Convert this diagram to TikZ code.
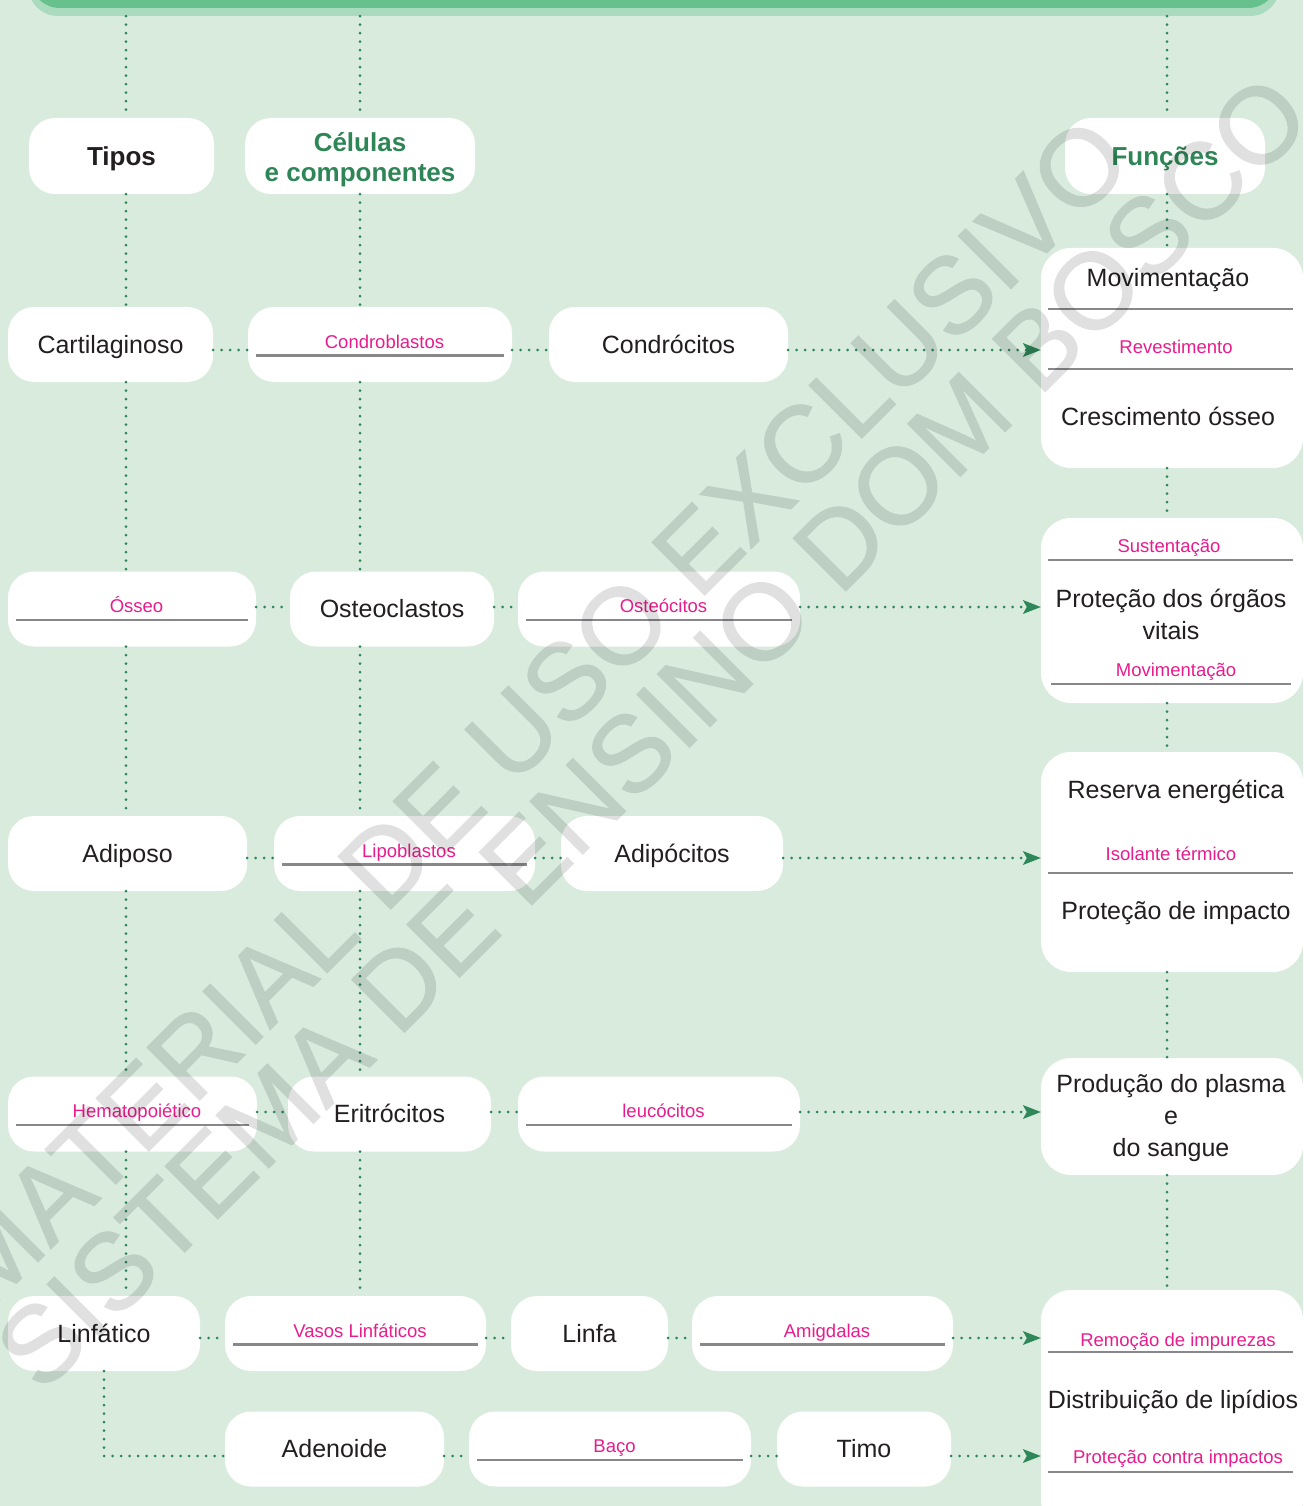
\documentclass[tikz,border=0pt]{standalone}
\usepackage{fontspec}
\setmainfont{Liberation Sans}
\newfontfamily\stampfont[FakeBold=1.2]{Liberation Sans}
\usetikzlibrary{arrows.meta}
\definecolor{fundo}{RGB}{216,235,221}
\definecolor{faixa}{RGB}{102,193,141}
\definecolor{faixaclara}{RGB}{171,219,190}
\definecolor{pontos}{RGB}{45,135,88}
\definecolor{verdetit}{RGB}{46,134,86}
\definecolor{rosa}{RGB}{232,28,140}
\definecolor{cinza}{RGB}{136,136,140}
\definecolor{tinta}{RGB}{35,31,32}

\begin{document}
\begin{tikzpicture}[x=1pt, y=-1pt,
  cell/.style={rectangle, rounded corners=26pt, fill=white, minimum height=75pt, inner sep=0pt, text=tinta, font=\fontsize{25}{30}\selectfont, text height=17pt, text depth=0pt},
  blank/.style={cell, text=rosa, font=\fontsize{18.5}{22}\selectfont, text height=7pt, execute at begin node={\hspace*{9pt}},
    path picture={\draw[rule] ([xshift=8pt,yshift=-11pt]path picture bounding box.west) -- ([xshift=-8pt,yshift=-11pt]path picture bounding box.east);}},
  head/.style={cell, minimum height=76pt, text=verdetit, font=\bfseries\fontsize{26}{30}\selectfont, text height=20pt, align=center},
  fbox/.style={rectangle, rounded corners=30pt, fill=white, minimum width=262pt, inner sep=0pt},
  ftext/.style={anchor=base, inner sep=0pt, text=tinta, font=\fontsize{25}{32}\selectfont, align=center},
  fnote/.style={anchor=base, inner sep=0pt, text=rosa, font=\fontsize{18.5}{22}\selectfont},
  rule/.style={draw=cinza, line width=2.5pt},
  dots/.style={draw=pontos, line width=3pt, line cap=round, dash pattern=on 0pt off 8.5pt},
  arrow/.style={dots, -{Stealth[length=18pt, width=14pt, inset=4pt, line width=0pt]}},
  stamp/.style={inner sep=0pt, text=black, font=\stampfont\fontsize{108}{130}\selectfont, rotate=45}
]
\clip (0,0) rectangle (1303,1506);
\fill[fundo] (0,0) rectangle (1303,1506);

\node[rectangle, rounded corners=30pt, fill=faixaclara, minimum width=1252pt, minimum height=76pt] (bannerbase) at (654,-22) {};
\node[rectangle, rounded corners=30pt, fill=faixa, minimum width=1248pt, minimum height=68pt] (banner) at (654,-26) {};

\coordinate (colA) at (126,0);
\coordinate (colB) at (360,0);
\coordinate (colC) at (1167,0);

\node[head, text=tinta, minimum width=185pt] (tipos) at (121.5,156) {Tipos};
\node[head, minimum width=230pt, text height=57.5pt, text depth=5.5pt] (celulas) at (360,156) {Células\\e componentes};
\node[head, minimum width=200pt] (funcoes) at (1165,156) {Funções};

\node[cell, minimum width=205pt] (cart) at (110.5,344.5) {Cartilaginoso};
\node[blank, minimum width=264pt] (condb) at (380,344.5) {Condroblastos};
\node[cell, minimum width=239pt] (condc) at (668.5,344.5) {Condrócitos};

\node[blank, minimum width=248pt] (osseo) at (132,609) {Ósseo};
\node[cell, minimum width=204pt] (ostcl) at (392,609) {Osteoclastos};
\node[blank, minimum width=282pt] (ostci) at (659,609) {Osteócitos};

\node[cell, minimum width=239pt] (adip) at (127.5,853.5) {Adiposo};
\node[blank, minimum width=261pt] (lipo) at (404.5,853.5) {Lipoblastos};
\node[cell, minimum width=222pt] (adipc) at (672,853.5) {Adipócitos};

\node[blank, minimum width=249pt] (hema) at (132.5,1114) {Hematopoiético};
\node[cell, minimum width=203pt] (eritr) at (389.5,1114) {Eritrócitos};
\node[blank, minimum width=282pt] (leuco) at (659,1114) {leucócitos};

\node[cell, minimum width=192pt] (linf) at (104,1333.5) {Linfático};
\node[blank, minimum width=261pt] (vasos) at (355.5,1333.5) {Vasos Linfáticos};
\node[cell, minimum width=157pt] (linfa) at (589.5,1333.5) {Linfa};
\node[blank, minimum width=261pt] (amig) at (822.5,1333.5) {Amigdalas};

\node[cell, minimum width=219pt] (aden) at (334.5,1449) {Adenoide};
\node[blank, minimum width=282pt] (baco) at (610,1449) {Baço};
\node[cell, minimum width=174pt] (timo) at (864,1449) {Timo};

\node[fbox, minimum height=220pt] (fun1) at (1172,358) {};
\node[ftext] (mov) at (1168,287) {Movimentação};
\draw[rule] (1048,309) -- (1293,309);
\node[fnote] (rev) at (1176,353) {Revestimento};
\draw[rule] (1048,369) -- (1293,369);
\node[ftext] (cresc) at (1168,425) {Crescimento ósseo};

\node[fbox, minimum height=185pt] (fun2) at (1172,610.5) {};
\node[fnote] (sust) at (1169,552) {Sustentação};
\draw[rule] (1048,560) -- (1293,560);
\node[ftext, anchor=north] (prot) at (1171,588.5) {Proteção dos órgãos\\vitais};
\node[fnote] (movb) at (1176,676) {Movimentação};
\draw[rule] (1051,684) -- (1291,684);

\node[fbox, minimum height=220pt] (fun3) at (1172,862) {};
\node[ftext] (reserva) at (1176,798) {Reserva energética};
\node[fnote] (isol) at (1171,860) {Isolante térmico};
\draw[rule] (1048,873) -- (1293,873);
\node[ftext] (impacto) at (1176,919) {Proteção de impacto};

\node[fbox, minimum height=117pt] (fun4) at (1172,1116.5) {};
\node[ftext, anchor=north] (plasma) at (1171,1074.5) {Produção do plasma\\e\\do sangue};

\node[fbox, minimum height=240pt] (fun5) at (1172,1410) {};
\node[fnote] (remo) at (1178,1346) {Remoção de impurezas};
\draw[rule] (1048,1352) -- (1293,1352);
\node[ftext] (lipid) at (1173,1408) {Distribuição de lipídios};
\node[fnote] (contra) at (1178,1463) {Proteção contra impactos};
\draw[rule] (1048,1472) -- (1293,1472);

\draw[dots] (bannerbase.south -| colA) -- (tipos.north -| colA);
\draw[dots] (tipos.south -| colA) -- (cart.north -| colA);
\draw[dots] (cart.south -| colA) -- (osseo.north -| colA);
\draw[dots] (osseo.south -| colA) -- (adip.north -| colA);
\draw[dots] (adip.south -| colA) -- (hema.north -| colA);
\draw[dots] (hema.south -| colA) -- (linf.north -| colA);
\draw[dots] (linf.south) |- ([yshift=-7pt]aden.west);

\draw[dots] (bannerbase.south -| colB) -- (celulas.north -| colB);
\draw[dots] (celulas.south -| colB) -- (condb.north -| colB);
\draw[dots] (condb.south -| colB) -- (ostcl.north -| colB);
\draw[dots] (ostcl.south -| colB) -- (lipo.north -| colB);
\draw[dots] (lipo.south -| colB) -- (eritr.north -| colB);
\draw[dots] (eritr.south -| colB) -- (vasos.north -| colB);

\draw[dots] (bannerbase.south -| colC) -- (funcoes.north -| colC);
\draw[dots] (funcoes.south -| colC) -- (fun1.north -| colC);
\draw[dots] (fun1.south -| colC) -- (fun2.north -| colC);
\draw[dots] (fun2.south -| colC) -- (fun3.north -| colC);
\draw[dots] (fun3.south -| colC) -- (fun4.north -| colC);
\draw[dots] (fun4.south -| colC) -- (fun5.north -| colC);

\draw[dots] ([yshift=-5.5pt]cart.east) -- ([yshift=-5.5pt]condb.west);
\draw[dots] ([yshift=-5.5pt]condb.east) -- ([yshift=-5.5pt]condc.west);
\draw[arrow] ([yshift=-5.5pt]condc.east) -- ([yshift=-5.5pt]condc.east -| fun1.west);

\draw[dots] ([yshift=2pt]osseo.east) -- ([yshift=2pt]ostcl.west);
\draw[dots] ([yshift=2pt]ostcl.east) -- ([yshift=2pt]ostci.west);
\draw[arrow] ([yshift=2pt]ostci.east) -- ([yshift=2pt]ostci.east -| fun2.west);

\draw[dots] ([yshift=-4.5pt]adip.east) -- ([yshift=-4.5pt]lipo.west);
\draw[dots] ([yshift=-4.5pt]lipo.east) -- ([yshift=-4.5pt]adipc.west);
\draw[arrow] ([yshift=-4.5pt]adipc.east) -- ([yshift=-4.5pt]adipc.east -| fun3.west);

\draw[dots] ([yshift=2pt]hema.east) -- ([yshift=2pt]eritr.west);
\draw[dots] ([yshift=2pt]eritr.east) -- ([yshift=2pt]leuco.west);
\draw[arrow] ([yshift=2pt]leuco.east) -- ([yshift=2pt]leuco.east -| fun4.west);

\draw[dots] ([yshift=-4.5pt]linf.east) -- ([yshift=-4.5pt]vasos.west);
\draw[dots] ([yshift=-4.5pt]vasos.east) -- ([yshift=-4.5pt]linfa.west);
\draw[dots] ([yshift=-4.5pt]linfa.east) -- ([yshift=-4.5pt]amig.west);
\draw[arrow] ([yshift=-4.5pt]amig.east) -- ([yshift=-4.5pt]amig.east -| fun5.west);

\draw[dots] ([yshift=-7pt]aden.east) -- ([yshift=-7pt]baco.west);
\draw[dots] ([yshift=-7pt]baco.east) -- ([yshift=-7pt]timo.west);
\draw[arrow] ([yshift=-7pt]timo.east) -- ([yshift=-7pt]timo.east -| fun5.west);

\begin{scope}[transparency group, opacity=0.12]
\node[stamp] (stamp1) at (535,712) {MATERIAL DE USO EXCLUSIVO};
\node[stamp] (stamp2) at (652,732) {SISTEMA DE ENSINO DOM BOSCO};
\end{scope}
\end{tikzpicture}
\end{document}
